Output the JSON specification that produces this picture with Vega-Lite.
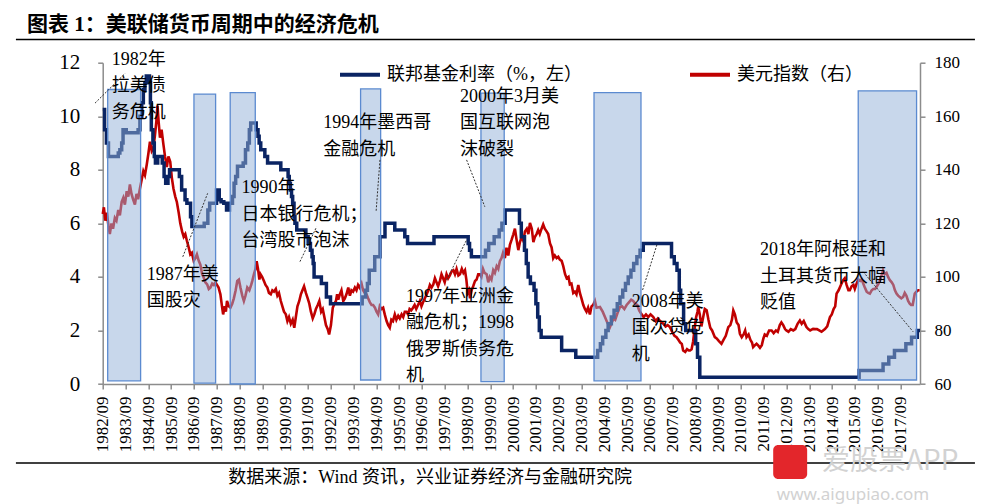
{
"$schema": "https://vega.github.io/schema/vega-lite/v6.json",
"width": 817.3, "height": 321.3,
"autosize": {"type": "none"},
"padding": {"left": 102.7, "top": 62.7, "right": 66, "bottom": 120},
"background": "white",
"config": {
  "view": {"stroke": null},
  "font": "Liberation Serif, Noto Sans CJK SC",
  "axis": {"grid": false, "domainColor": "#8c8c8c", "domainWidth": 1.5, "tickColor": "#8c8c8c", "tickWidth": 1.5, "tickSize": 5, "labelColor": "#000000", "labelFont": "Liberation Serif"},
  "axisX": {"labelOverlap": false, "labelFlush": false, "labelBound": false, "labelAngle": -90, "labelFontSize": 17, "labelPadding": 7, "tickCount": 50}
},
"datasets": {
"dxy": [
{"t":1982.67,"v":123.5},{"t":1982.72,"v":126},{"t":1982.78,"v":121},{"t":1982.85,"v":124},{"t":1982.92,"v":119},{"t":1982.98,"v":116},{"t":1983.05,"v":120},{"t":1983.12,"v":118},{"t":1983.2,"v":122},{"t":1983.27,"v":121},{"t":1983.35,"v":125},{"t":1983.42,"v":123},{"t":1983.5,"v":128},{"t":1983.57,"v":129.5},{"t":1983.64,"v":127},{"t":1983.72,"v":132},{"t":1983.79,"v":130},{"t":1983.86,"v":134.5},{"t":1983.93,"v":131},{"t":1984.0,"v":129},{"t":1984.08,"v":127},{"t":1984.15,"v":131},{"t":1984.22,"v":129},{"t":1984.3,"v":133},{"t":1984.37,"v":136},{"t":1984.45,"v":139.5},{"t":1984.52,"v":138},{"t":1984.6,"v":142},{"t":1984.67,"v":146},{"t":1984.74,"v":150.5},{"t":1984.82,"v":147},{"t":1984.89,"v":148},{"t":1984.96,"v":153},{"t":1985.02,"v":158},{"t":1985.07,"v":164},{"t":1985.12,"v":158},{"t":1985.18,"v":152},{"t":1985.25,"v":155},{"t":1985.33,"v":149.5},{"t":1985.4,"v":145},{"t":1985.48,"v":141},{"t":1985.55,"v":145},{"t":1985.63,"v":143},{"t":1985.7,"v":137},{"t":1985.77,"v":133},{"t":1985.85,"v":130},{"t":1985.92,"v":128},{"t":1986.0,"v":124},{"t":1986.07,"v":120},{"t":1986.15,"v":117},{"t":1986.22,"v":115},{"t":1986.29,"v":116},{"t":1986.36,"v":113.5},{"t":1986.44,"v":111},{"t":1986.51,"v":108.4},{"t":1986.58,"v":109},{"t":1986.66,"v":106},{"t":1986.73,"v":107},{"t":1986.8,"v":108.4},{"t":1986.88,"v":106},{"t":1986.95,"v":104.6},{"t":1987.03,"v":101},{"t":1987.1,"v":99.7},{"t":1987.17,"v":98},{"t":1987.25,"v":97.2},{"t":1987.32,"v":95.5},{"t":1987.39,"v":96},{"t":1987.47,"v":97.5},{"t":1987.54,"v":97},{"t":1987.61,"v":98},{"t":1987.68,"v":97},{"t":1987.75,"v":96},{"t":1987.83,"v":93.5},{"t":1987.9,"v":89},{"t":1987.95,"v":86},{"t":1988.02,"v":89},{"t":1988.07,"v":87},{"t":1988.12,"v":91},{"t":1988.2,"v":89},{"t":1988.27,"v":88.5},{"t":1988.35,"v":90},{"t":1988.42,"v":92},{"t":1988.5,"v":95},{"t":1988.57,"v":98.5},{"t":1988.64,"v":99},{"t":1988.71,"v":96},{"t":1988.79,"v":93},{"t":1988.86,"v":91},{"t":1988.93,"v":93},{"t":1989.01,"v":96},{"t":1989.1,"v":95},{"t":1989.18,"v":97},{"t":1989.23,"v":98.5},{"t":1989.3,"v":101},{"t":1989.37,"v":103},{"t":1989.42,"v":105.9},{"t":1989.48,"v":103},{"t":1989.54,"v":99},{"t":1989.59,"v":101},{"t":1989.66,"v":100},{"t":1989.74,"v":98.5},{"t":1989.81,"v":97},{"t":1989.89,"v":96},{"t":1989.96,"v":94},{"t":1990.04,"v":93.5},{"t":1990.11,"v":95},{"t":1990.18,"v":94.5},{"t":1990.26,"v":95.5},{"t":1990.33,"v":93},{"t":1990.4,"v":94},{"t":1990.48,"v":91},{"t":1990.55,"v":89},{"t":1990.62,"v":87},{"t":1990.7,"v":86},{"t":1990.77,"v":83.5},{"t":1990.84,"v":85},{"t":1990.92,"v":82.5},{"t":1991.0,"v":84},{"t":1991.07,"v":81},{"t":1991.14,"v":85},{"t":1991.21,"v":89},{"t":1991.29,"v":91},{"t":1991.36,"v":93.5},{"t":1991.43,"v":95},{"t":1991.5,"v":96.5},{"t":1991.58,"v":94},{"t":1991.66,"v":92},{"t":1991.73,"v":90},{"t":1991.8,"v":87},{"t":1991.88,"v":84.5},{"t":1991.95,"v":86},{"t":1992.02,"v":88},{"t":1992.1,"v":89.5},{"t":1992.17,"v":91},{"t":1992.25,"v":87},{"t":1992.32,"v":88},{"t":1992.39,"v":85},{"t":1992.46,"v":82},{"t":1992.54,"v":80.5},{"t":1992.6,"v":78.5},{"t":1992.68,"v":82},{"t":1992.76,"v":88.5},{"t":1992.83,"v":90},{"t":1992.9,"v":91},
{"t":1992.95,"v":93.5},{"t":1993.0,"v":91.5},{"t":1993.07,"v":93.5},{"t":1993.14,"v":95},{"t":1993.22,"v":91},{"t":1993.29,"v":92},{"t":1993.36,"v":93.5},{"t":1993.44,"v":96},{"t":1993.51,"v":93},{"t":1993.58,"v":95},{"t":1993.65,"v":94.5},{"t":1993.73,"v":96},{"t":1993.8,"v":95},{"t":1993.87,"v":97},{"t":1993.94,"v":96},{"t":1994.02,"v":97.5},{"t":1994.09,"v":95},{"t":1994.16,"v":94},{"t":1994.24,"v":93.5},{"t":1994.31,"v":92},{"t":1994.39,"v":90.5},{"t":1994.46,"v":89.5},{"t":1994.53,"v":89.5},{"t":1994.61,"v":88.5},{"t":1994.68,"v":87},{"t":1994.75,"v":86},{"t":1994.82,"v":89},{"t":1994.89,"v":88},{"t":1994.97,"v":88.5},{"t":1995.04,"v":86},{"t":1995.12,"v":83.5},{"t":1995.19,"v":82},{"t":1995.26,"v":81},{"t":1995.33,"v":84},{"t":1995.4,"v":83.5},{"t":1995.48,"v":86},{"t":1995.55,"v":84},{"t":1995.63,"v":85.5},{"t":1995.7,"v":84.5},{"t":1995.78,"v":86},{"t":1995.85,"v":85},{"t":1995.92,"v":87},{"t":1995.99,"v":87},{"t":1996.06,"v":86},{"t":1996.13,"v":88},{"t":1996.2,"v":87.5},{"t":1996.28,"v":88.5},{"t":1996.35,"v":89.5},{"t":1996.42,"v":88},{"t":1996.5,"v":89.5},{"t":1996.58,"v":91},{"t":1996.65,"v":89},{"t":1996.72,"v":90.5},{"t":1996.8,"v":92},{"t":1996.88,"v":93.5},{"t":1996.95,"v":95},{"t":1997.02,"v":97},{"t":1997.09,"v":96},{"t":1997.17,"v":97.2},{"t":1997.24,"v":99.5},{"t":1997.31,"v":98},{"t":1997.38,"v":96.5},{"t":1997.46,"v":98.5},{"t":1997.53,"v":101},{"t":1997.6,"v":99.5},{"t":1997.67,"v":98},{"t":1997.75,"v":101},{"t":1997.82,"v":99.5},{"t":1997.89,"v":100.5},{"t":1997.97,"v":102},{"t":1998.05,"v":102.5},{"t":1998.12,"v":101},{"t":1998.19,"v":103},{"t":1998.27,"v":100.5},{"t":1998.34,"v":101},{"t":1998.42,"v":103},{"t":1998.49,"v":101.5},{"t":1998.56,"v":102.5},{"t":1998.62,"v":99},{"t":1998.68,"v":94},{"t":1998.74,"v":95},{"t":1998.78,"v":92},{"t":1998.85,"v":95},{"t":1998.92,"v":96.5},{"t":1999.0,"v":98.5},{"t":1999.07,"v":99},{"t":1999.14,"v":101},{"t":1999.21,"v":101},{"t":1999.28,"v":100},{"t":1999.35,"v":103},{"t":1999.42,"v":101.5},{"t":1999.51,"v":101},{"t":1999.58,"v":98},{"t":1999.65,"v":100},{"t":1999.72,"v":99},{"t":1999.8,"v":102.5},{"t":1999.87,"v":101.5},{"t":1999.95,"v":104},{"t":2000.02,"v":103},{"t":2000.09,"v":105.9},{"t":2000.16,"v":107},{"t":2000.23,"v":109},{"t":2000.31,"v":107},{"t":2000.38,"v":110.9},{"t":2000.46,"v":108},{"t":2000.53,"v":112},{"t":2000.61,"v":114},{"t":2000.68,"v":115.9},{"t":2000.75,"v":118},{"t":2000.82,"v":114},{"t":2000.9,"v":110},{"t":2000.97,"v":113},{"t":2001.05,"v":115},{"t":2001.12,"v":113.5},{"t":2001.19,"v":117},{"t":2001.27,"v":118},{"t":2001.34,"v":116},{"t":2001.41,"v":120.2},{"t":2001.49,"v":118},{"t":2001.56,"v":113},{"t":2001.63,"v":115},{"t":2001.7,"v":116},{"t":2001.77,"v":117.5},{"t":2001.84,"v":116},{"t":2001.92,"v":118},{"t":2001.99,"v":119.6},{"t":2002.06,"v":118},{"t":2002.14,"v":117},{"t":2002.21,"v":116},{"t":2002.29,"v":112.5},{"t":2002.36,"v":111},{"t":2002.43,"v":107},{"t":2002.5,"v":108},{"t":2002.58,"v":107},{"t":2002.65,"v":107.5},{"t":2002.72,"v":106.5},{"t":2002.8,"v":106},{"t":2002.87,"v":104},{"t":2002.95,"v":101},{"t":2003.02,"v":99.5},{"t":2003.1,"v":100},{"t":2003.16,"v":97.2},{"t":2003.23,"v":97.5},{"t":2003.31,"v":94},{"t":2003.38,"v":94.5},{"t":2003.45,"v":93.5},{"t":2003.53,"v":97},{"t":2003.6,"v":94},{"t":2003.67,"v":92},{"t":2003.75,"v":89.5},{"t":2003.82,"v":88},{"t":2003.89,"v":87},{"t":2003.96,"v":88.5},{"t":2004.04,"v":86},{"t":2004.11,"v":89},{"t":2004.18,"v":89.5},{"t":2004.26,"v":91},{"t":2004.33,"v":88.5},
{"t":2004.48,"v":88.75},{"t":2004.6,"v":87},{"t":2004.7,"v":85},{"t":2004.8,"v":83},{"t":2004.92,"v":81.25},{"t":2005.0,"v":83},{"t":2005.08,"v":84.5},{"t":2005.15,"v":84},{"t":2005.25,"v":86.5},{"t":2005.36,"v":88.75},{"t":2005.45,"v":89},{"t":2005.55,"v":88},{"t":2005.65,"v":89.5},{"t":2005.75,"v":90.5},{"t":2005.85,"v":91.5},{"t":2005.94,"v":91},{"t":2006.03,"v":90},{"t":2006.12,"v":89.5},{"t":2006.2,"v":87.5},{"t":2006.31,"v":86},{"t":2006.4,"v":85},{"t":2006.5,"v":86},{"t":2006.6,"v":85},{"t":2006.7,"v":86},{"t":2006.82,"v":85},{"t":2006.92,"v":83.5},{"t":2007.02,"v":84.5},{"t":2007.12,"v":83.5},{"t":2007.26,"v":82.5},{"t":2007.36,"v":81.5},{"t":2007.45,"v":82},{"t":2007.55,"v":81.25},{"t":2007.65,"v":79.5},{"t":2007.75,"v":78},{"t":2007.84,"v":77.5},{"t":2007.92,"v":76.5},{"t":2008.0,"v":75.5},{"t":2008.07,"v":75},{"t":2008.13,"v":72.5},{"t":2008.22,"v":72},{"t":2008.3,"v":73},{"t":2008.38,"v":72.5},{"t":2008.43,"v":72.5},{"t":2008.5,"v":73},{"t":2008.57,"v":76},{"t":2008.64,"v":81.25},{"t":2008.7,"v":85},{"t":2008.76,"v":87},{"t":2008.79,"v":88.75},{"t":2008.86,"v":86},{"t":2008.93,"v":81.5},{"t":2009.01,"v":85},{"t":2009.08,"v":88},{"t":2009.16,"v":87.5},{"t":2009.24,"v":84},{"t":2009.32,"v":81},{"t":2009.4,"v":80},{"t":2009.52,"v":77.5},{"t":2009.6,"v":77},{"t":2009.7,"v":76},{"t":2009.81,"v":75},{"t":2009.9,"v":76.5},{"t":2010.0,"v":78},{"t":2010.11,"v":81.25},{"t":2010.2,"v":82},{"t":2010.27,"v":84},{"t":2010.33,"v":87.5},{"t":2010.4,"v":86},{"t":2010.48,"v":83},{"t":2010.56,"v":82},{"t":2010.62,"v":78.75},{"t":2010.7,"v":77.5},{"t":2010.78,"v":78.5},{"t":2010.85,"v":80},{"t":2010.91,"v":77.5},{"t":2011.0,"v":78.5},{"t":2011.08,"v":76.5},{"t":2011.15,"v":75.5},{"t":2011.2,"v":73.75},{"t":2011.28,"v":74.5},{"t":2011.35,"v":75},{"t":2011.42,"v":74.4},{"t":2011.5,"v":73.5},{"t":2011.58,"v":74.5},{"t":2011.65,"v":77},{"t":2011.71,"v":78.5},{"t":2011.8,"v":78},{"t":2011.9,"v":80},{"t":2012.01,"v":80},{"t":2012.1,"v":79},{"t":2012.2,"v":80},{"t":2012.28,"v":79.5},{"t":2012.37,"v":82},{"t":2012.44,"v":83},{"t":2012.52,"v":82},{"t":2012.6,"v":80.5},{"t":2012.66,"v":80},{"t":2012.75,"v":79.5},{"t":2012.85,"v":80.5},{"t":2012.96,"v":80},{"t":2013.05,"v":80.5},{"t":2013.15,"v":82.5},{"t":2013.25,"v":83.75},{"t":2013.33,"v":82.5},{"t":2013.42,"v":83.5},{"t":2013.5,"v":82},{"t":2013.54,"v":81.25},{"t":2013.62,"v":80.5},{"t":2013.7,"v":80},{"t":2013.83,"v":80.6},{"t":2013.92,"v":80.5},{"t":2014.0,"v":80.5},{"t":2014.1,"v":80},{"t":2014.2,"v":79.5},{"t":2014.27,"v":80},{"t":2014.35,"v":80.5},{"t":2014.45,"v":81.5},{"t":2014.57,"v":85},{"t":2014.65,"v":86},{"t":2014.73,"v":88},{"t":2014.8,"v":89},{"t":2014.86,"v":93.75},{"t":2014.95,"v":95},{"t":2015.05,"v":97},{"t":2015.15,"v":98.75},{"t":2015.22,"v":99.5},{"t":2015.3,"v":97},{"t":2015.38,"v":95},{"t":2015.44,"v":95},{"t":2015.52,"v":96.5},{"t":2015.6,"v":97},{"t":2015.66,"v":95.5},{"t":2015.74,"v":97.5},{"t":2015.82,"v":99},{"t":2015.9,"v":98.5},{"t":2015.96,"v":99},{"t":2016.03,"v":97.5},{"t":2016.1,"v":96},{"t":2016.18,"v":94.5},{"t":2016.25,"v":94},{"t":2016.32,"v":93.75},{"t":2016.4,"v":95},{"t":2016.47,"v":95.5},{"t":2016.55,"v":95.5},{"t":2016.61,"v":96.25},{"t":2016.7,"v":97.5},{"t":2016.78,"v":99},{"t":2016.85,"v":101},{"t":2016.9,"v":102.5},{"t":2016.97,"v":101},{"t":2017.05,"v":101.5},{"t":2017.12,"v":100},{"t":2017.2,"v":98.75},{"t":2017.28,"v":98},{"t":2017.35,"v":97},{"t":2017.42,"v":95},{"t":2017.49,"v":93.75},{"t":2017.56,"v":93},{"t":2017.63,"v":92.5},{"t":2017.7,"v":92},{"t":2017.78,"v":92.5},{"t":2017.85,"v":94},{"t":2017.92,"v":93},{"t":2018.0,"v":91},{"t":2018.07,"v":90},{"t":2018.13,"v":89.5},{"t":2018.2,"v":89.5},{"t":2018.29,"v":93.75},{"t":2018.36,"v":94.5},{"t":2018.44,"v":95},{"t":2018.5,"v":95}
],
"ffr": [
{"t":1982.667,"v":10.25},{"t":1982.75,"v":9.5},{"t":1982.83,"v":9.0},{"t":1982.92,"v":8.5},{"t":1983.35,"v":8.63},{"t":1983.42,"v":8.75},{"t":1983.5,"v":9.0},{"t":1983.56,"v":9.5},{"t":1983.7,"v":9.38},{"t":1984.22,"v":9.5},{"t":1984.3,"v":10.0},{"t":1984.38,"v":10.5},{"t":1984.45,"v":11.0},{"t":1984.52,"v":11.25},{"t":1984.58,"v":11.5},{"t":1984.72,"v":11.25},{"t":1984.76,"v":10.5},{"t":1984.8,"v":9.5},{"t":1984.87,"v":9.0},{"t":1984.93,"v":8.5},{"t":1984.98,"v":8.25},{"t":1985.08,"v":8.5},{"t":1985.28,"v":8.25},{"t":1985.36,"v":7.75},{"t":1985.43,"v":7.5},{"t":1985.53,"v":7.75},{"t":1985.6,"v":8.0},{"t":1986.03,"v":7.75},{"t":1986.13,"v":7.25},{"t":1986.28,"v":6.88},{"t":1986.36,"v":6.75},{"t":1986.52,"v":6.25},{"t":1986.58,"v":5.88},{"t":1987.12,"v":6.0},{"t":1987.28,"v":6.5},{"t":1987.36,"v":6.75},{"t":1987.66,"v":7.25},{"t":1987.78,"v":6.88},{"t":1987.86,"v":6.81},{"t":1987.98,"v":6.75},{"t":1988.1,"v":6.5},{"t":1988.23,"v":6.75},{"t":1988.36,"v":7.0},{"t":1988.43,"v":7.5},{"t":1988.5,"v":7.75},{"t":1988.58,"v":8.13},{"t":1988.83,"v":8.25},{"t":1988.93,"v":8.75},{"t":1989.03,"v":9.0},{"t":1989.1,"v":9.5},{"t":1989.16,"v":9.75},{"t":1989.4,"v":9.5},{"t":1989.48,"v":9.25},{"t":1989.53,"v":9.0},{"t":1989.6,"v":8.75},{"t":1989.78,"v":8.5},{"t":1989.9,"v":8.25},{"t":1990.48,"v":8.0},{"t":1990.8,"v":7.75},{"t":1990.85,"v":7.5},{"t":1990.9,"v":7.25},{"t":1990.95,"v":7.0},{"t":1991.0,"v":6.75},{"t":1991.06,"v":6.25},{"t":1991.1,"v":6.0},{"t":1991.18,"v":5.75},{"t":1991.58,"v":5.5},{"t":1991.68,"v":5.25},{"t":1991.78,"v":5.0},{"t":1991.85,"v":4.75},{"t":1991.9,"v":4.5},{"t":1991.94,"v":4.0},{"t":1992.26,"v":3.75},{"t":1992.48,"v":3.25},{"t":1992.66,"v":3.0},{"t":1994.05,"v":3.25},{"t":1994.2,"v":3.5},{"t":1994.28,"v":3.75},{"t":1994.36,"v":4.25},{"t":1994.6,"v":4.75},{"t":1994.83,"v":5.5},{"t":1995.05,"v":6.0},{"t":1995.48,"v":5.75},{"t":1995.92,"v":5.5},{"t":1996.04,"v":5.25},{"t":1997.2,"v":5.5},{"t":1998.7,"v":5.25},{"t":1998.76,"v":5.0},{"t":1998.84,"v":4.75},{"t":1999.46,"v":5.0},{"t":1999.6,"v":5.25},{"t":1999.84,"v":5.5},{"t":2000.06,"v":5.75},{"t":2000.18,"v":6.0},{"t":2000.32,"v":6.5},{"t":2000.95,"v":6.0},{"t":2001.03,"v":5.5},{"t":2001.17,"v":5.0},{"t":2001.25,"v":4.5},{"t":2001.33,"v":4.0},{"t":2001.43,"v":3.75},{"t":2001.59,"v":3.5},{"t":2001.67,"v":3.0},{"t":2001.75,"v":2.5},{"t":2001.82,"v":2.0},{"t":2001.9,"v":1.75},{"t":2002.8,"v":1.25},{"t":2003.42,"v":1.0},{"t":2004.38,"v":1.25},{"t":2004.5,"v":1.5},{"t":2004.6,"v":1.75},{"t":2004.74,"v":2.0},{"t":2004.84,"v":2.25},{"t":2004.98,"v":2.5},{"t":2005.1,"v":2.75},{"t":2005.24,"v":3.0},{"t":2005.36,"v":3.25},{"t":2005.48,"v":3.5},{"t":2005.6,"v":3.75},{"t":2005.72,"v":4.0},{"t":2005.84,"v":4.25},{"t":2005.96,"v":4.5},{"t":2006.1,"v":4.75},{"t":2006.24,"v":5.0},{"t":2006.38,"v":5.25},{"t":2007.62,"v":4.75},{"t":2007.74,"v":4.5},{"t":2007.86,"v":4.25},{"t":2007.96,"v":3.5},{"t":2008.02,"v":3.0},{"t":2008.15,"v":2.25},{"t":2008.24,"v":2.0},{"t":2008.68,"v":1.5},{"t":2008.76,"v":1.0},{"t":2008.86,"v":0.25},{"t":2015.85,"v":0.5},{"t":2016.9,"v":0.75},{"t":2017.15,"v":1.0},{"t":2017.4,"v":1.25},{"t":2017.9,"v":1.5},{"t":2018.15,"v":1.75},{"t":2018.4,"v":2.0},{"t":2018.52,"v":2.0}
],
"crisis": [
{"t":1982.886,"t2":1984.33,"lo":0.12,"hi":11.0},
{"t":1986.67,"t2":1987.62,"lo":0.03,"hi":10.83},
{"t":1988.26,"t2":1989.36,"lo":0.0,"hi":10.88},
{"t":1993.98,"t2":1994.86,"lo":0.15,"hi":11.02},
{"t":1999.26,"t2":2000.28,"lo":0.09,"hi":10.86},
{"t":2004.22,"t2":2006.28,"lo":0.12,"hi":10.88},
{"t":2015.81,"t2":2018.37,"lo":0.15,"hi":10.95}
],
"notes": [
{"t":1983.06,"v":12.44,"label":"1982年\n拉美债\n务危机"},
{"t":1984.6,"v":4.41,"label":"1987年美\n国股灾"},
{"t":1988.76,"v":7.64,"label":"1990年\n日本银行危机；\n台湾股市泡沫"},
{"t":1992.34,"v":10.07,"label":"1994年墨西哥\n金融危机"},
{"t":1998.34,"v":11.06,"label":"2000年3月美\n国互联网泡\n沫破裂"},
{"t":1995.97,"v":3.59,"label":"1997年亚洲金\n融危机；1998\n俄罗斯债务危\n机"},
{"t":2005.87,"v":3.4,"label":"2008年美\n国次贷危\n机"},
{"t":2011.5,"v":5.33,"label":"2018年阿根廷和\n土耳其货币大幅\n贬值"}
],
"leaders": [
{"t":1982.33,"v":10.49,"t2":1983.65,"v2":11.6},
{"t":1986.18,"v":4.75,"t2":1987.27,"v2":7.12},
{"t":1991.32,"v":4.57,"t2":1992.05,"v2":5.87},
{"t":1994.83,"v":8.37,"t2":1994.66,"v2":6.44},
{"t":1997.75,"v":3.88,"t2":1998.63,"v2":5.38},
{"t":1998.63,"v":8.37,"t2":1999.43,"v2":6.62},
{"t":2006.35,"v":3.51,"t2":2006.99,"v2":5.23},
{"t":2016.03,"v":4.19,"t2":2018.22,"v2":1.95}
],
"one": [{}]
},
"layer": [
{
  "data": {"name": "dxy"},
  "transform": [{"calculate": "'美元指数（右）'", "as": "s"}],
  "mark": {"type": "line", "strokeWidth": 2.6, "clip": false},
  "encoding": {
    "x": {"field": "t", "type": "quantitative",
      "scale": {"domain": [1982.667, 2018.52], "nice": false, "zero": false},
      "axis": {"values": [1982.667,1983.667,1984.667,1985.667,1986.667,1987.667,1988.667,1989.667,1990.667,1991.667,1992.667,1993.667,1994.667,1995.667,1996.667,1997.667,1998.667,1999.667,2000.667,2001.667,2002.667,2003.667,2004.667,2005.667,2006.667,2007.667,2008.667,2009.667,2010.667,2011.667,2012.667,2013.667,2014.667,2015.667,2016.667,2017.667],
        "tickCount": 50, "labelExpr": "floor(datum.value) + '/09'", "labelAngle": -90, "labelFontSize": 17, "labelPadding": 7, "labelOverlap": false, "labelFlush": false, "labelBound": false, "labelSeparation": 0,
        "title": "数据来源：Wind 资讯，兴业证券经济与金融研究院", "titleX": 125, "titleY": 93, "titleAlign": "left", "titleBaseline": "middle", "titleAngle": 0,
        "titleFontSize": 18, "titleFontWeight": "normal", "titleFont": "Liberation Serif, Noto Sans CJK SC", "titleColor": "#000000"}},
    "y": {"field": "v", "type": "quantitative",
      "scale": {"domain": [60, 180], "nice": false, "zero": false},
      "axis": {"orient": "right", "values": [60,80,100,120,140,160,180], "labelFontSize": 17, "labelPadding": 9, "title": null}},
    "color": {"field": "s", "type": "nominal",
      "scale": {"domain": ["联邦基金利率（%，左）", "美元指数（右）"], "range": ["#0a2463", "#c00000"]},
      "legend": {"orient": "none", "legendX": 235.3, "legendY": -10, "direction": "horizontal", "title": null,
        "symbolType": "stroke", "symbolSize": 1600, "symbolStrokeWidth": 4, "labelFontSize": 18,
        "labelFont": "Liberation Serif, Noto Sans CJK SC", "labelColor": "#000000", "labelOffset": 5, "columnPadding": 100, "padding": 0, "labelLimit": 400}}
  }
},
{
  "layer": [
    {
      "data": {"name": "ffr"},
      "transform": [{"calculate": "'联邦基金利率（%，左）'", "as": "s"}],
      "mark": {"type": "line", "strokeWidth": 3.5, "interpolate": "step-after", "clip": false},
      "encoding": {
        "x": {"field": "t", "type": "quantitative",
          "axis": {"values": [1982.667,1983.667,1984.667,1985.667,1986.667,1987.667,1988.667,1989.667,1990.667,1991.667,1992.667,1993.667,1994.667,1995.667,1996.667,1997.667,1998.667,1999.667,2000.667,2001.667,2002.667,2003.667,2004.667,2005.667,2006.667,2007.667,2008.667,2009.667,2010.667,2011.667,2012.667,2013.667,2014.667,2015.667,2016.667,2017.667],
            "tickCount": 50, "labelExpr": "floor(datum.value) + '/09'", "labelAngle": -90, "labelFontSize": 17, "labelPadding": 7, "labelOverlap": false, "labelFlush": false, "labelBound": false, "labelSeparation": 0,
            "title": "数据来源：Wind 资讯，兴业证券经济与金融研究院", "titleX": 125, "titleY": 93, "titleAlign": "left", "titleBaseline": "middle", "titleAngle": 0,
            "titleFontSize": 18, "titleFontWeight": "normal", "titleFont": "Liberation Serif, Noto Sans CJK SC", "titleColor": "#000000"}},
        "y": {"field": "v", "type": "quantitative", "scale": {"domain": [0, 12], "nice": false},
          "axis": {"orient": "left", "values": [0,2,4,6,8,10,12], "labelFontSize": 21, "labelPadding": 18, "title": null}},
        "color": {"field": "s", "type": "nominal"}
      }
    },
    {
      "data": {"name": "crisis"},
      "mark": {"type": "rect", "fill": "#93b0d8", "fillOpacity": 0.51, "stroke": "#5b8ad0", "strokeWidth": 1.3},
      "encoding": {
        "x": {"field": "t", "type": "quantitative"},
        "x2": {"field": "t2"},
        "y": {"field": "hi", "type": "quantitative"},
        "y2": {"field": "lo"}
      }
    },
    {
      "data": {"name": "leaders"},
      "mark": {"type": "rule", "color": "#333333", "strokeWidth": 1, "strokeDash": [2, 1.5]},
      "encoding": {
        "x": {"field": "t", "type": "quantitative"},
        "x2": {"field": "t2"},
        "y": {"field": "v", "type": "quantitative"},
        "y2": {"field": "v2"}
      }
    },
    {
      "data": {"name": "notes"},
      "mark": {"type": "text", "align": "left", "baseline": "top", "fontSize": 18, "lineHeight": 26.5, "lineBreak": "\n", "font": "Liberation Serif, Noto Sans CJK SC", "color": "#000000"},
      "encoding": {
        "x": {"field": "t", "type": "quantitative"},
        "y": {"field": "v", "type": "quantitative"},
        "text": {"field": "label"}
      }
    },
    {
      "data": {"name": "one"},
      "mark": {"type": "text", "align": "left", "baseline": "middle", "fontSize": 21, "fontWeight": "bold", "font": "Liberation Serif, Noto Sans CJK SC", "color": "#000000", "text": "图表 1：美联储货币周期中的经济危机"},
      "encoding": {
        "x": {"datum": 1979.347, "type": "quantitative"},
        "y": {"datum": 13.41, "type": "quantitative"}
      }
    },
    {
      "data": {"name": "one"},
      "mark": {"type": "rule", "color": "#000000", "strokeWidth": 1.5},
      "encoding": {
        "x": {"datum": 1978.86, "type": "quantitative"},
        "x2": {"datum": 2020.93},
        "y": {"datum": 12.87, "type": "quantitative"}
      }
    },
    {
      "data": {"name": "one"},
      "mark": {"type": "rule", "color": "#000000", "strokeWidth": 1.5},
      "encoding": {
        "x": {"datum": 1978.86, "type": "quantitative"},
        "x2": {"datum": 2020.93},
        "y": {"datum": -2.95, "type": "quantitative"}
      }
    },
    {
      "data": {"name": "one"},
      "mark": {"type": "rect", "fill": "#e3262b", "cornerRadius": 5},
      "encoding": {
        "x": {"datum": 2012.08, "type": "quantitative"},
        "x2": {"datum": 2013.57},
        "y": {"datum": -2.28, "type": "quantitative"},
        "y2": {"datum": -3.55}
      }
    },
    {
      "data": {"name": "one"},
      "mark": {"type": "text", "align": "left", "baseline": "middle", "fontSize": 28, "font": "Noto Sans CJK SC", "color": "#d2d2d2", "text": "爱股票APP"},
      "encoding": {
        "x": {"datum": 2014.22, "type": "quantitative"},
        "y": {"datum": -2.9, "type": "quantitative"}
      }
    },
    {
      "data": {"name": "one"},
      "mark": {"type": "text", "align": "left", "baseline": "middle", "fontSize": 17, "font": "Noto Sans", "color": "#d2d2d2", "text": "www.aigupiao.com"},
      "encoding": {
        "x": {"datum": 2012.24, "type": "quantitative"},
        "y": {"datum": -4.15, "type": "quantitative"}
      }
    }
  ]
}
],
"resolve": {"scale": {"y": "independent"}}
}
